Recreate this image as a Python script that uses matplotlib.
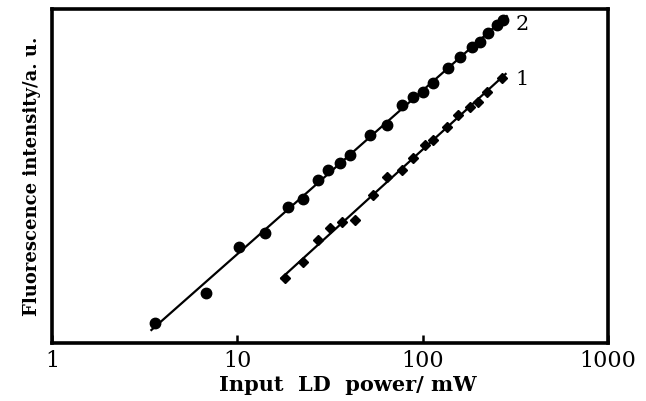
import matplotlib

matplotlib.use("Agg")
import matplotlib.pyplot as plt
import numpy as np

# curve 2 (upper) - input power (mW) and intensity (a.u.)
power_2 = [3.6, 6.8, 10.2, 14.1, 18.8, 22.6, 27.3, 30.9, 35.8, 40.6, 52.0,
           64.2, 77.4, 88.8, 100, 114, 137, 159, 185, 204, 225, 252, 272]
inten_2 = [6.0, 15.0, 28.7, 32.9, 40.7, 43.1, 48.8, 51.8, 53.9, 56.3, 62.3,
           65.3, 71.3, 73.7, 75.1, 77.8, 82.3, 85.6, 88.6, 90.1, 92.8, 95.2, 96.7]

# curve 1 (lower)
power_1 = [18.1, 22.6, 27.3, 31.7, 36.7, 43.2, 54.0, 64.2, 77.4, 88.8, 103,
           114, 135, 155, 180, 199, 223, 268]
inten_1 = [19.5, 24.3, 30.8, 34.4, 36.2, 36.8, 44.3, 49.7, 51.8, 55.4, 59.3,
           60.8, 64.7, 68.3, 70.7, 72.2, 75.1, 79.3]

xticks = [1, 10, 100, 1000]
xticklabels = ["1", "10", "100", "1000"]

SERIF = "DejaVu Serif"

fig = plt.figure(figsize=(6.46, 4.01), dpi=100)
ax = fig.add_axes([0.0805, 0.1446, 0.8605, 0.833])

for px, py, mk, ms in ((power_2, inten_2, "o", 7.5), (power_1, inten_1, "D", 5)):
    lx = np.log10(px)
    k, b = np.polyfit(lx, py, 1)
    xs = np.array([lx[0] - 0.02, lx[-1] + 0.02])
    ax.plot(10 ** xs, k * xs + b, color="black", lw=1.6, zorder=2)
    ax.plot(px, py, ls="none", marker=mk, ms=ms, color="black", zorder=3)

# curve numbers at the right end of each line
ax.text(318, 95.5, "2", fontsize=15, family=SERIF, va="center")
ax.text(318, 79, "1", fontsize=15, family=SERIF, va="center")

ax.set_xscale("log")
ax.set_xlim(1, 1000)
ax.set_ylim(0, 100)
ax.set_xticks(xticks)
ax.set_xticklabels(xticklabels, fontsize=16, family=SERIF)
ax.minorticks_off()
ax.set_yticks([])
ax.tick_params(axis="x", direction="in", length=6, width=1.8, pad=5)
for s in ax.spines.values():
    s.set_linewidth(2.6)

ax.set_xlabel("Input  LD  power/ mW", fontsize=15, family=SERIF,
              fontweight="bold")
ax.xaxis.set_label_coords(0.532, -0.095)
ax.set_ylabel("Fluorescence intensity/a. u.", fontsize=13, family=SERIF,
              fontweight="bold", labelpad=8)

fig.savefig("out.png", dpi=100)
